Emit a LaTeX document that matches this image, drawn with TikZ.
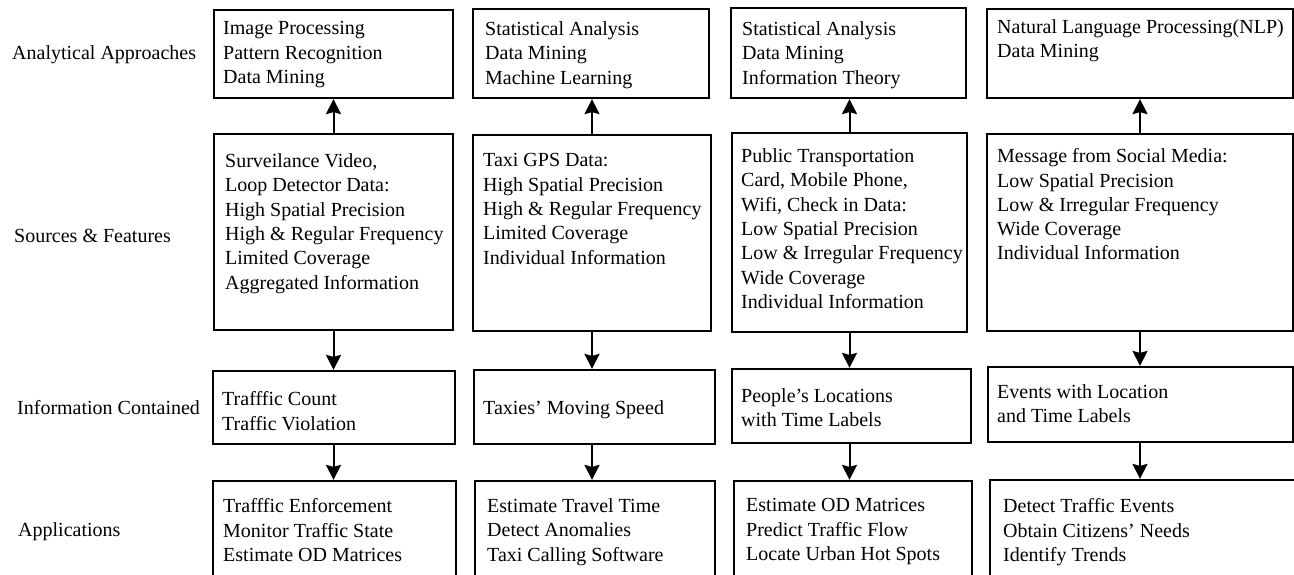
\documentclass[tikz,border=0pt]{standalone}
\usepackage{fontspec}
\setmainfont{Liberation Serif}
\usetikzlibrary{arrows.meta,fit}

\begin{document}
\begin{tikzpicture}[x=1pt,y=-1pt,
        font=\fontsize{20}{24.3}\selectfont,
        box/.style={draw, line width=2.2pt, inner sep=0pt},
        txt/.style={align=left, inner sep=0pt, anchor=north west},
        rowlabel/.style={inner sep=0pt, anchor=base west},
        arr/.style={line width=2pt, -{Stealth[length=15pt,width=15pt,inset=2pt]}}]
        \useasboundingbox (0,0) rectangle (1294,575);
        \clip (0,0) rectangle (1294,575);
        % row labels
        \node[rowlabel] (l1) at (12,60) {Analytical Approaches};
        \node[rowlabel] (l2) at (14,242) {Sources \& Features};
        \node[rowlabel] (l3) at (17,414) {Information Contained};
        \node[rowlabel] (l4) at (18,536) {Applications};
        % analytical approaches
        \node[box, fit={(214,10) (453,98)}] (a1) {};
        \node[box, fit={(473,9) (709,98)}] (a2) {};
        \node[box, fit={(731,8) (966,98)}] (a3) {};
        \node[box, fit={(987,9) (1293,98)}] (a4) {};
        \node[txt] (a1t) at (223,21.5) {Image Processing\\Pattern Recognition\\Data Mining};
        \node[txt] (a2t) at (485,21.5) {Statistical Analysis\\Data Mining\\Machine Learning};
        \node[txt] (a3t) at (742,21.5) {Statistical Analysis\\Data Mining\\Information Theory};
        \node[txt] (a4t) at (997,19.5) {Natural Language Processing(NLP)\\Data Mining};
        % sources and features
        \node[box, fit={(214,134) (453,330)}] (s1) {};
        \node[box, fit={(473,135) (711,331)}] (s2) {};
        \node[box, fit={(732,133) (967,332)}] (s3) {};
        \node[box, fit={(987,134) (1293,331)}] (s4) {};
        \node[txt] (s1t) at (225,153.5) {Surveilance Video,\\Loop Detector Data:\\High Spatial Precision\\High \& Regular Frequency\\Limited Coverage\\Aggregated Information};
        \node[txt] (s2t) at (483,153.5) {Taxi GPS Data:\\High Spatial Precision\\High \& Regular Frequency\\Limited Coverage\\Individual Information};
        \node[txt] (s3t) at (741,148.5) {Public Transportation\\Card, Mobile Phone,\\Wifi, Check in Data:\\Low Spatial Precision\\Low \& Irregular Frequency\\Wide Coverage\\Individual Information};
        \node[txt] (s4t) at (997,148.5) {Message from Social Media:\\Low Spatial Precision\\Low \& Irregular Frequency\\Wide Coverage\\Individual Information};
        % information contained
        \node[box, fit={(213,371) (455,444)}] (i1) {};
        \node[box, fit={(474,370) (715,444)}] (i2) {};
        \node[box, fit={(732,369) (971,443)}] (i3) {};
        \node[box, fit={(988,367) (1293,442)}] (i4) {};
        \node[txt] (i1t) at (222,391.5) {Trafffic Count\\Traffic Violation};
        \node[txt] (i2t) at (483,400.5) {Taxies' Moving Speed};
        \node[txt] (i3t) at (741,388.5) {People's Locations\\with Time Labels};
        \node[txt] (i4t) at (997,384.5) {Events with Location\\and Time Labels};
        % applications
        \node[box, fit={(213,481) (456,585)}] (p1) {};
        \node[box, fit={(475,481) (715,585)}] (p2) {};
        \node[box, fit={(734,481) (972,585)}] (p3) {};
        \node[box, fit={(990,480) (1305,585)}] (p4) {};
        \node[txt] (p1t) at (223,498.5) {Trafffic Enforcement\\Monitor Traffic State\\Estimate OD Matrices};
        \node[txt] (p2t) at (487,498.5) {Estimate Travel Time\\Detect Anomalies\\Taxi Calling Software};
        \node[txt] (p3t) at (746,498.5) {Estimate OD Matrices\\Predict Traffic Flow\\Locate Urban Hot Spots};
        \node[txt] (p4t) at (1003,498.5) {Detect Traffic Events\\Obtain Citizens' Needs\\Identify Trends};
        % arrows
        \foreach \c in {1,2,3,4}{
            \draw[arr] (s\c.north) -- (s\c.north |- a\c.south);
            \draw[arr] (s\c.south) -- (s\c.south |- i\c.north);
            \draw[arr] (i\c.south -| s\c.south) -- (s\c.south |- p\c.north);
        }
\end{tikzpicture}
\end{document}
